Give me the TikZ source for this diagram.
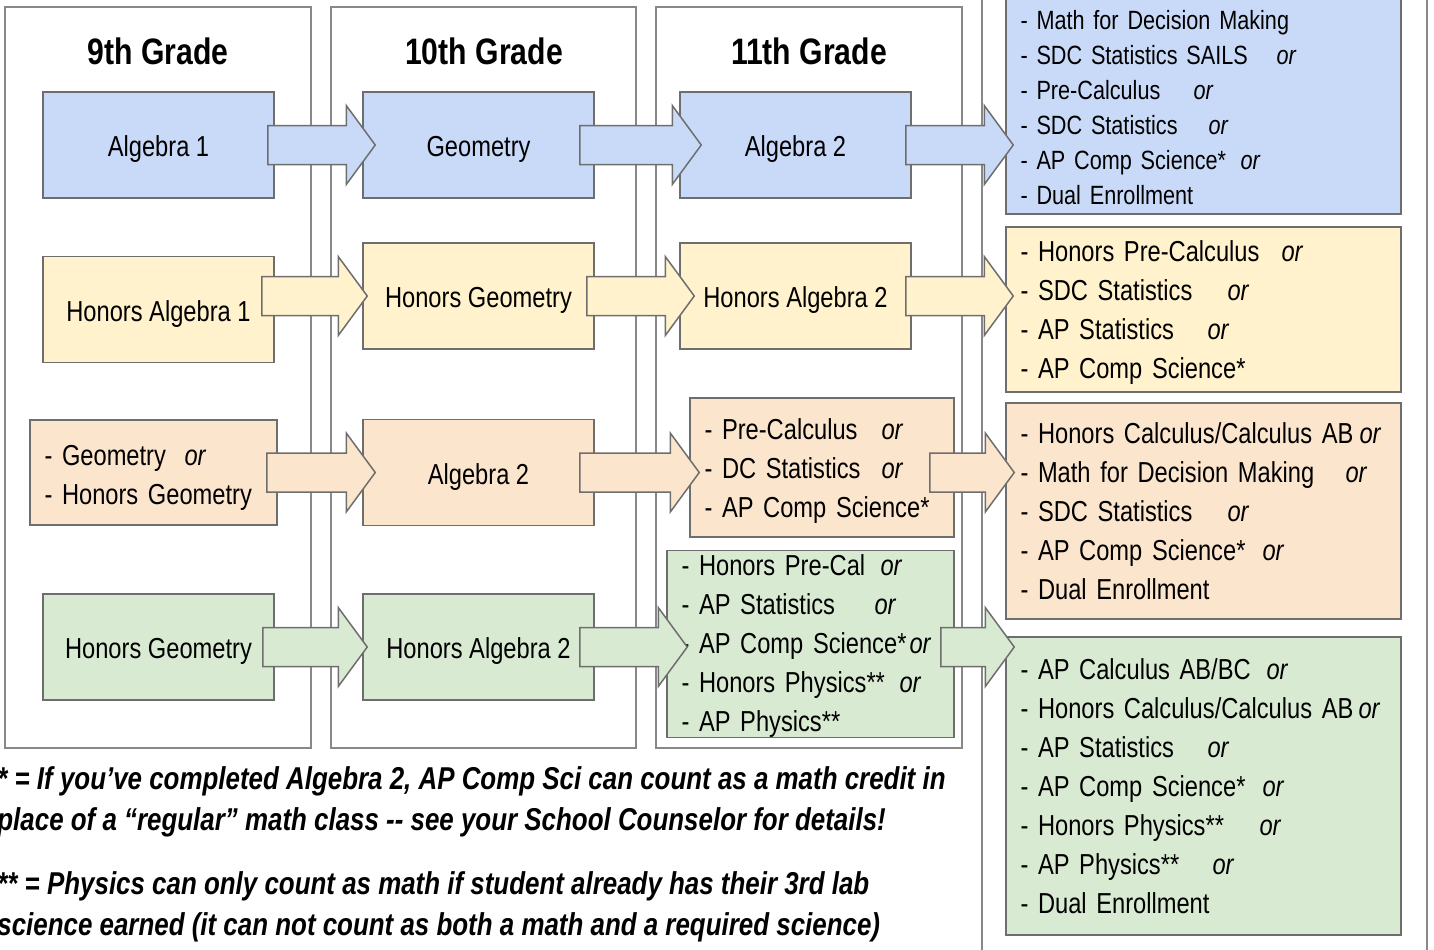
\documentclass[tikz,border=0pt]{standalone}
\usepackage{fontspec}
\setmainfont{Liberation Sans}[FakeStretch=0.82]
\usetikzlibrary{calc}

\definecolor{pathblue}{HTML}{C9DAF8}
\definecolor{pathyellow}{HTML}{FFF2CC}
\definecolor{pathorange}{HTML}{FCE5CD}
\definecolor{pathgreen}{HTML}{D9EAD3}
\definecolor{edgegray}{HTML}{6E6E6E}
\definecolor{framegray}{HTML}{888888}

\newcommand{\orat}[2]{\makebox[#1][l]{#2}\textit{or}}
\newcommand{\flow}[6]{%
  \draw[flowline,fill=#1] let \p1=($(#2.east)+(#5,0)$), \p2=($(#3.west)+(#6,0)$), \p3=(#4) in
    (\x1,\y3+9.75pt) -- (\x2-14.5pt,\y3+9.75pt) -- (\x2-14.5pt,\y3+19.75pt)
    -- (\x2,\y3) -- (\x2-14.5pt,\y3-19.75pt) -- (\x2-14.5pt,\y3-9.75pt)
    -- (\x1,\y3-9.75pt) -- cycle;}

\begin{document}
\begin{tikzpicture}[x=0.5pt,y=-0.5pt,
  panel/.style={draw=edgegray,line width=0.75pt,minimum width=115.5pt,minimum height=53pt,
    inner sep=0pt,font=\fontsize{14.44}{19.5}\selectfont},
  course/.style={panel,text height=14.5pt,text depth=3pt},
  choices/.style={panel,align=left,inner xsep=7.25pt},
  grade/.style={font=\fontsize{18.4}{22}\selectfont\bfseries},
  frame/.style={draw=framegray,line width=1pt},
  flowline/.style={draw=edgegray,line width=0.75pt,line join=miter},
  note/.style={anchor=west,align=left,inner sep=0pt,font=\fontsize{15.8}{20.5}\selectfont\bfseries\itshape}]
  \useasboundingbox (0,0) rectangle (1434,949);

  \draw[frame] (5,7) rectangle (311,748);
  \draw[frame] (331,7) rectangle (636,748);
  \draw[frame] (656,7) rectangle (962,748);
  \draw[frame] (982,-20) rectangle (1427,970);

  \node[grade] (g9) at (158,51) {9th Grade};
  \node[grade] (g10) at (484,51) {10th Grade};
  \node[grade] (g11) at (809,51) {11th Grade};

  \node[course,fill=pathblue] (alg9) at (158.5,145) {Algebra 1};
  \node[course,fill=pathblue] (geo10) at (478.5,145) {Geometry};
  \node[course,fill=pathblue] (alg11) at (795.5,145) {Algebra 2};
  \node[choices,fill=pathblue,text width=183pt,minimum height=122pt,
    font=\fontsize{13.2}{17.5}\selectfont] (blue12) at (1203.5,92)
    {\rule{0pt}{8pt}\\- Math for Decision Making\\\orat{128pt}{- SDC Statistics SAILS}\\
     \orat{86.5pt}{- Pre-Calculus}\\\orat{94pt}{- SDC Statistics}\\
     \orat{110pt}{- AP Comp Science*}\\- Dual Enrollment};

  \node[course,fill=pathyellow] (halg9) at (158.5,309.5) {Honors Algebra 1};
  \node[course,fill=pathyellow] (hgeo10) at (478.5,296) {Honors Geometry};
  \node[course,fill=pathyellow] (halg11) at (795.5,296) {Honors Algebra 2};
  \node[choices,fill=pathyellow,text width=183pt,minimum height=82.5pt] (yellow12) at (1203.5,309.5)
    {\rule{0pt}{13.6pt}\orat{130.5pt}{- Honors Pre-Calculus}\\\orat{103.5pt}{- SDC Statistics}\\
     \orat{93.5pt}{- AP Statistics}\\- AP Comp Science*};

  \node[choices,fill=pathorange,text width=109pt,minimum height=52.5pt] (geo9) at (153.5,472.5)
    {\rule{0pt}{15.6pt}\orat{70pt}{- Geometry}\\- Honors Geometry};
  \node[course,fill=pathorange] (alg10) at (478.5,472.5) {Algebra 2};
  \node[choices,fill=pathorange,text width=117.5pt,minimum height=69.5pt] (pre11) at (822,467.5)
    {\rule{0pt}{13.6pt}\orat{88.5pt}{- Pre-Calculus}\\\orat{88.5pt}{- DC Statistics}\\- AP Comp Science*};
  \node[choices,fill=pathorange,text width=183pt,minimum height=108pt] (orange12) at (1203.5,511)
    {\orat{169.5pt}{- Honors Calculus/Calculus AB}\\\orat{162.5pt}{- Math for Decision Making}\\
     \orat{103.5pt}{- SDC Statistics}\\\orat{121pt}{- AP Comp Science*}\\- Dual Enrollment};

  \node[course,fill=pathgreen] (hgeo9) at (158.5,647) {Honors Geometry};
  \node[course,fill=pathgreen] (halg10) at (478.5,647) {Honors Algebra 2};
  \node[choices,fill=pathgreen,text width=129pt,minimum height=93pt] (hpre11) at (810.5,644)
    {\rule{0pt}{12.6pt}\orat{99.5pt}{- Honors Pre-Cal}\\\orat{96.5pt}{- AP Statistics}\\
     \orat{114pt}{- AP Comp Science*}\\\orat{109pt}{- Honors Physics**}\\- AP Physics**};
  \node[choices,fill=pathgreen,text width=183pt,minimum height=149pt] (green12) at (1203.5,786)
    {\orat{123pt}{- AP Calculus AB/BC}\\\orat{169pt}{- Honors Calculus/Calculus AB}\\
     \orat{93.5pt}{- AP Statistics}\\\orat{121pt}{- AP Comp Science*}\\
     \orat{119.5pt}{- Honors Physics**}\\\orat{96pt}{- AP Physics**}\\- Dual Enrollment};

  \flow{pathblue}{alg9}{geo10}{geo10}{-7}{13}
  \flow{pathblue}{geo10}{alg11}{geo10}{-15}{22}
  \flow{pathblue}{alg11}{blue12}{geo10}{-6}{8}
  \flow{pathyellow}{halg9}{hgeo10}{hgeo10}{-13}{5}
  \flow{pathyellow}{hgeo10}{halg11}{hgeo10}{-8}{15}
  \flow{pathyellow}{halg11}{yellow12}{hgeo10}{-6}{8}
  \flow{pathorange}{geo9}{alg10}{alg10}{-11}{13}
  \flow{pathorange}{alg10}{pre11}{alg10}{-15}{10}
  \flow{pathorange}{pre11}{orange12}{alg10}{-25}{9}
  \flow{pathgreen}{hgeo9}{halg10}{halg10}{-12}{5}
  \flow{pathgreen}{halg10}{hpre11}{halg10}{-15}{21}
  \flow{pathgreen}{hpre11}{green12}{halg10}{-14}{9}

  \node[note] (star) at (-3,801.5) {* = If you’ve completed Algebra 2, AP Comp Sci can count as a math credit in\\
    place of a “regular” math class -{}- see your School Counselor for details!};
  \node[note] (stars) at (-3,906.5) {** = Physics can only count as math if student already has their 3rd lab\\
    science earned (it can not count as both a math and a required science)};
\end{tikzpicture}
\end{document}
